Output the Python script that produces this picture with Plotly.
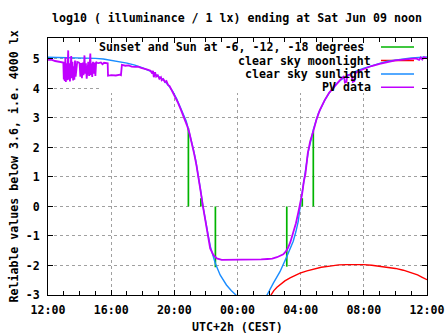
import plotly.graph_objects as go

# ---------------- data (hours after Fri 12:00) ----------------
x_tick_vals = [0, 4, 8, 12, 16, 20, 24]
x_tick_text = ["12:00", "16:00", "20:00", "00:00", "04:00", "08:00", "12:00"]
x_minor_vals = list(range(0, 25))
y_tick_vals = [-3, -2, -1, 0, 1, 2, 3, 4, 5]
y_tick_text = ["-3", "-2", "-1", "0", "1", "2", "3", "4", "5"]

# Sunset / Sun at -6, -12 (evening) and -12, -6, sunrise (morning)
sun_event_h = [8.89, 9.68, 10.60, 15.12, 16.10, 16.80]
sun_event_v = [2.66, 0.28, -2.06, -2.04, 0.28, 2.55]

moon_h = [14.10, 14.30, 14.50, 14.70, 15.00, 15.33, 15.65, 15.96, 16.40, 16.80, 17.30,
          17.86, 18.40, 18.90, 19.50, 20.00, 20.50, 21.00, 21.50, 22.00, 22.50, 23.00,
          23.40, 23.70, 24.00]
moon_v = [-3.02, -2.85, -2.74, -2.65, -2.52, -2.42, -2.33, -2.26, -2.18, -2.12, -2.06,
          -2.02, -1.98, -1.97, -1.96, -1.97, -1.99, -2.02, -2.06, -2.10, -2.16, -2.24,
          -2.32, -2.40, -2.48]

sun_h = [0.0, 1.0, 2.0, 3.0, 3.5, 4.0, 4.5, 5.0, 5.5, 6.0, 6.5, 7.0, 7.3, 7.6, 7.9, 8.15,
         8.4, 8.6, 8.75, 8.9, 9.05, 9.2, 9.35, 9.5, 9.65, 9.8, 9.95, 10.15, 10.3, 10.45,
         10.6, 10.9, 11.3, 11.6, 11.9, 12.3, 12.9, 13.5, 13.87, 14.27, 14.69, 15.12, 15.35,
         15.53, 15.7, 15.85, 16.0, 16.17, 16.3, 16.48, 16.65, 16.8, 17.12, 17.54, 18.07,
         18.5, 18.91, 19.4, 19.96, 20.5, 21.0, 21.5, 22.07, 23.0, 24.0]
sun_v = [5.06, 5.05, 5.04, 5.02, 5.0, 4.96, 4.92, 4.86, 4.79, 4.7, 4.58, 4.42, 4.3, 4.12,
         3.9, 3.65, 3.35, 3.1, 2.9, 2.6, 2.3, 1.95, 1.58, 1.15, 0.6, 0.05, -0.45, -1.0, -1.4,
         -1.7, -1.93, -2.32, -2.66, -2.85, -3.0, -3.15, -3.25, -3.15, -3.0, -2.6, -2.21,
         -1.7, -1.42, -1.18, -0.85, -0.5, 0.15, 0.85, 1.2, 1.85, 2.3, 2.6, 3.15, 3.62, 4.06,
         4.27, 4.42, 4.56, 4.68, 4.78, 4.85, 4.92, 4.97, 5.03, 5.07]

pv_h = [0.00, 0.25, 0.45, 0.70, 0.90, 0.97, 1.00, 1.03, 1.06, 1.10, 1.13, 1.17, 1.21,
        1.25, 1.28, 1.31, 1.35, 1.39, 1.43, 1.47, 1.51, 1.55, 1.59, 1.63, 1.67, 1.71,
        1.75, 1.80, 1.85, 1.95, 2.00, 2.05, 2.10, 2.15, 2.20, 2.25, 2.31, 2.35, 2.40,
        2.45, 2.50, 2.55, 2.60, 2.64, 2.68, 2.72, 2.76, 2.80, 2.85, 2.90, 2.95, 3.00,
        3.05, 3.10, 3.20, 3.35, 3.45, 3.55, 3.70, 3.78, 3.80, 4.00, 4.30, 4.55, 4.62,
        4.64, 4.66, 4.68, 4.75, 4.90, 5.10, 5.30, 5.50, 5.70, 5.90, 6.10, 6.30, 6.50,
        6.60, 6.65, 6.70, 6.78, 6.85, 6.95, 7.05, 7.15, 7.20, 7.30, 7.40, 7.50, 7.60,
        7.70, 7.80, 7.90, 8.00, 8.20, 8.40, 8.60, 8.80, 8.95, 9.10, 9.25, 9.40, 9.55,
        9.70, 9.82, 9.95, 10.10, 10.27, 10.47, 10.69, 11.00, 12.00, 13.00, 13.50, 13.90,
        14.20, 14.50, 14.70, 14.90, 15.05, 15.20, 15.35, 15.50, 15.70, 15.85, 15.95,
        16.10, 16.20, 16.30, 16.45, 16.60, 16.80, 17.00, 17.20, 17.50, 17.80, 18.10,
        18.40, 18.60, 18.75, 18.80, 18.90, 18.95, 19.20, 19.30, 19.40, 19.45, 19.70,
        20.00, 20.50, 21.00, 21.50, 22.00, 22.50, 23.00, 23.30, 23.50, 23.60, 23.70,
        23.80, 24.00]
pv_v = [4.97, 4.97, 4.93, 4.90, 4.88, 4.88, 4.30, 4.90, 4.25, 5.05, 4.22, 4.85, 4.28,
        4.90, 5.29, 4.30, 4.85, 4.24, 4.80, 5.10, 4.35, 4.90, 4.27, 4.75, 4.30, 4.95,
        4.40, 4.85, 4.90, 4.88, 4.85, 4.40, 4.86, 4.35, 4.88, 4.45, 5.12, 4.50, 4.85,
        4.33, 4.87, 4.90, 4.42, 4.88, 5.18, 4.45, 4.85, 4.39, 4.90, 4.50, 4.88, 4.42,
        4.90, 4.87, 4.86, 4.88, 4.82, 4.87, 4.85, 4.85, 4.43, 4.45, 4.44, 4.47, 4.45,
        4.80, 4.50, 4.80, 4.79, 4.77, 4.78, 4.74, 4.73, 4.74, 4.70, 4.68, 4.64, 4.60,
        4.50, 4.60, 4.38, 4.55, 4.40, 4.45, 4.33, 4.38, 4.28, 4.32, 4.22, 4.25, 4.12,
        4.08, 3.98, 3.90, 3.80, 3.55, 3.30, 3.05, 2.75, 2.50, 2.18, 1.80, 1.40, 0.95,
        0.40, -0.02, -0.46, -0.95, -1.42, -1.64, -1.76, -1.81, -1.81, -1.81, -1.79, -1.78,
        -1.77, -1.72, -1.68, -1.62, -1.53, -1.40, -1.20, -0.95, -0.57, -0.20, 0.02,
        0.45, 0.85, 1.10, 1.80, 2.20, 2.55, 2.95, 3.25, 3.58, 3.85, 4.05,
        4.25, 4.35, 4.42, 4.20, 4.22, 4.45, 4.47, 4.22, 4.25, 4.52, 4.60,
        4.66, 4.76, 4.83, 4.90, 4.95, 4.98, 5.00, 5.02, 4.97, 5.05, 4.98,
        5.06, 5.02]

legend_names = ["Sunset and Sun at -6, -12, -18 degrees", "clear sky moonlight",
                "clear sky sunlight", "PV data"]
series_colors = ["#00b400", "#ff0000", "#1a8cff", "#c000ff"]

title_text = "log10 ( illuminance / 1 lx) ending at Sat Jun 09 noon"
x_title = "UTC+2h (CEST)"
y_title = "Reliable values below 3.6, i.e. 4000 lx"

# ---------------- figure ----------------
W, H = 447, 335
L, R, T, B = 48, 20, 38, 40
pw, ph = W - L - R, H - T - B
XR = [0, 24]
YR = [-3, 5.71]

def px2paper(px, py):
    return (px - L) / pw, (H - B - py) / ph

def px2data(px, py):
    fx, fy = px2paper(px, py)
    return XR[0] + fx * (XR[1] - XR[0]), YR[0] + fy * (YR[1] - YR[0])

FONT = dict(family="DejaVu Sans Mono", size=11.6, color="black", weight="bold")

fig = go.Figure()

gx, gy = [], []
for h, v in zip(sun_event_h, sun_event_v):
    gx += [h, h, None]
    gy += [0, v, None]
fig.add_trace(go.Scatter(x=gx, y=gy, mode="lines", line=dict(color=series_colors[0], width=1.7),
                         showlegend=False, hoverinfo="skip"))
fig.add_trace(go.Scatter(x=moon_h, y=moon_v, mode="lines",
                         line=dict(color=series_colors[1], width=1.4), showlegend=False))
fig.add_trace(go.Scatter(x=sun_h, y=sun_v, mode="lines",
                         line=dict(color=series_colors[2], width=1.4), showlegend=False))
fig.add_trace(go.Scatter(x=pv_h, y=pv_v, mode="lines",
                         line=dict(color=series_colors[3], width=1.8), showlegend=False))

# opaque key box (hides grid, below data)
kx0, ky0 = px2data(99, 93)
shapes = [dict(type="rect", xref="x", yref="y", x0=kx0, x1=XR[1], y0=ky0, y1=YR[1],
               fillcolor="white", line=dict(width=0), layer="between")]
annotations = []
row_py = [47, 60.5, 74, 87.3]
text_right = [366, 373, 373, 373]
for name, col, py, tr in zip(legend_names, series_colors, row_py, text_right):
    ax, ay = px2paper(tr, py)
    annotations.append(dict(xref="paper", yref="paper", x=ax, y=ay, text=name,
                            showarrow=False, xanchor="right", yanchor="middle", font=FONT))
    sx0, sy = px2data(381, py)
    sx1, _ = px2data(414, py)
    shapes.append(dict(type="line", xref="x", yref="y", x0=sx0, x1=sx1, y0=sy, y1=sy,
                       line=dict(color=col, width=1.5), layer="between"))

tx, ty = px2paper(237, 18)
annotations.append(dict(xref="paper", yref="paper", x=tx, y=ty, text=title_text,
                        showarrow=False, xanchor="center", yanchor="middle", font=FONT))
tx, ty = px2paper(237, 327)
annotations.append(dict(xref="paper", yref="paper", x=tx, y=ty, text=x_title,
                        showarrow=False, xanchor="center", yanchor="middle", font=FONT))
tx, ty = px2paper(13, 166.5)
annotations.append(dict(xref="paper", yref="paper", x=tx, y=ty, text=y_title, textangle=-90,
                        showarrow=False, xanchor="center", yanchor="middle", font=FONT))

axis_common = dict(showline=True, linecolor="black", linewidth=1, mirror="ticks",
                   ticks="inside", ticklen=5, tickcolor="black", tickwidth=1,
                   showgrid=True, gridcolor="#a0a0a0", gridwidth=1, griddash="3px,3px",
                   zeroline=False, tickfont=FONT, tickmode="array", automargin=False)

fig.update_xaxes(range=XR, tickvals=x_tick_vals, ticktext=x_tick_text,
                 ticklabelstandoff=4,
                 minor=dict(tickmode="array", tickvals=x_minor_vals, ticks="inside",
                            ticklen=4, tickcolor="black", showgrid=False),
                 **axis_common)
fig.update_yaxes(range=YR, tickvals=y_tick_vals, ticktext=y_tick_text,
                 ticklabelstandoff=5, **axis_common)

fig.update_layout(template="none", width=W, height=H, autosize=False,
                  margin=dict(l=L, r=R, t=T, b=B, pad=0, autoexpand=False),
                  paper_bgcolor="white", plot_bgcolor="white",
                  shapes=shapes, annotations=annotations, showlegend=False,
                  font=FONT)

fig.write_html("out.html")
